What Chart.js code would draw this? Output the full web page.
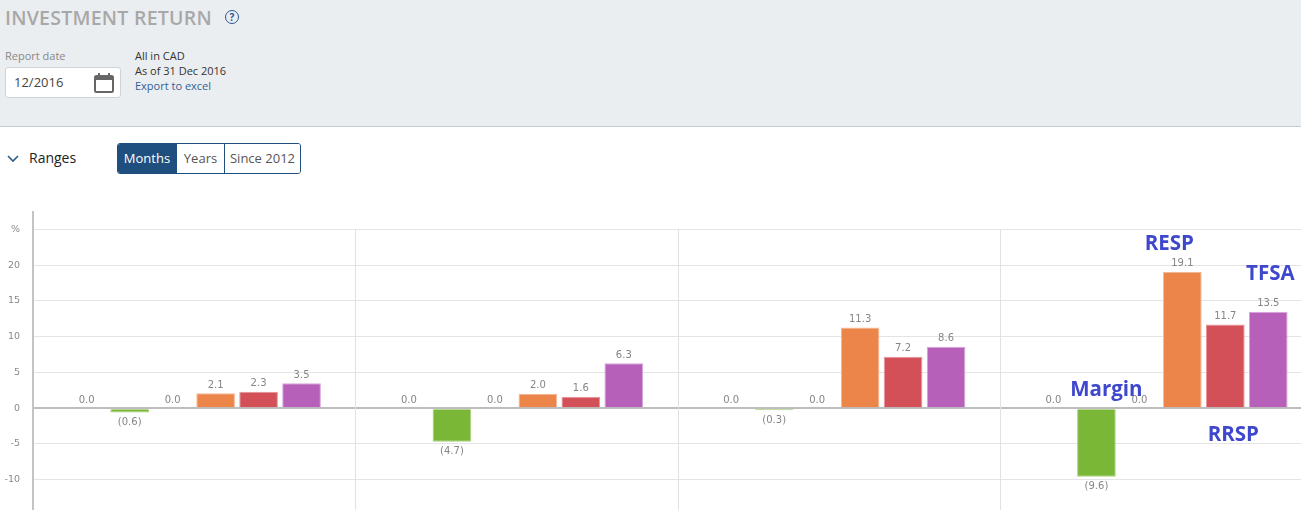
<!DOCTYPE html>
<html>
<head>
<meta charset="utf-8">
<script src="https://cdn.jsdelivr.net/npm/chart.js@4.4.1/dist/chart.umd.min.js"></script>
<style>
  html, body { margin: 0; padding: 0; width: 1301px; height: 510px; overflow: hidden; background: #fff; font-family: "Open Sans", sans-serif; }
  .top { position: absolute; left: 0; top: 0; width: 1301px; height: 126px; background: #ebeef0; border-bottom: 1px solid #c6cacd; }
  .title { position: absolute; left: 5px; top: 4px; font-size: 19.5px; font-weight: 600; color: #a8a8a8; letter-spacing: 0.25px; }
  .help { position: absolute; left: 225px; top: 10px; width: 12px; height: 12px; border: 1.5px solid #2d5597; border-radius: 50%; color: #2d5597; font-size: 10px; font-weight: 700; line-height: 12px; text-align: center; }
  .lbl { position: absolute; left: 5px; top: 48px; font-size: 11px; color: #888; }
  .date { position: absolute; left: 5px; top: 67px; width: 114px; height: 29px; background: #fff; border: 1px solid #cfd3d6; border-radius: 3px; }
  .date span { position: absolute; left: 8px; top: 5px; font-size: 13px; color: #444; }
  .date svg { position: absolute; left: 88px; top: 4px; }
  .info { position: absolute; left: 135px; font-size: 11px; color: #333; }
  .info.link { color: #2f6196; }
  .ranges { position: absolute; left: 7px; top: 147px; font-size: 14px; color: #222; }
  .ranges svg { position: absolute; left: 0; top: 8px; }
  .ranges b { position: absolute; left: 22px; top: 1px; font-weight: 400; white-space: nowrap; }
  .btns { position: absolute; left: 117px; top: 143px; height: 29px; display: flex; border: 1px solid #1f4f7e; border-radius: 3px; overflow: hidden; }
  .btns div { font-size: 13px; color: #555; line-height: 29px; text-align: center; border-left: 1px solid #1f4f7e; background: #fff; box-sizing: border-box; }
  .btns div.on { background: #1f4f7e; color: #fff; border-left: none; }
  #wrap { position: absolute; left: 0; top: 193px; width: 1322px; height: 341px; }
</style>
</head>
<body>
<div class="top">
  <div class="title">INVESTMENT RETURN</div>
  <div class="help">?</div>
  <div class="lbl">Report date</div>
  <div class="date"><span>12/2016</span>
    <svg width="20" height="21" viewBox="0 0 20 21">
      <rect x="1" y="4" width="18" height="16" rx="1.5" fill="none" stroke="#666" stroke-width="2"/>
      <rect x="1" y="4" width="18" height="4" fill="#666"/>
      <rect x="4" y="1" width="2" height="5" fill="#666"/>
      <rect x="14" y="1" width="2" height="5" fill="#666"/>
    </svg>
  </div>
  <div class="info" style="top:48px">All in CAD</div>
  <div class="info" style="top:63px">As of 31 Dec 2016</div>
  <div class="info link" style="top:78px">Export to excel</div>
</div>
<div class="ranges">
  <svg width="12" height="8" viewBox="0 0 12 8"><polyline points="1,1 6,6 11,1" fill="none" stroke="#2d5a8a" stroke-width="1.6"/></svg>
  <b>Ranges</b>
</div>
<div class="btns">
  <div class="on" style="width:58px">Months</div>
  <div style="width:48px">Years</div>
  <div style="width:76px">Since 2012</div>
</div>
<div id="wrap"><canvas id="chart"></canvas></div>
<script>
// ── Data ──
const periods = ['1 Month', '3 Months', '6 Months', '12 Months'];
const cash   = [0, 0, 0, 0];
const margin = [-0.6, -4.7, -0.3, -9.6];
const lira   = [0, 0, 0, 0];
const resp   = [2.1, 2.0, 11.3, 19.1];
const rrsp   = [2.3, 1.6, 7.2, 11.7];
const tfsa   = [3.5, 6.3, 8.6, 13.5];
const yTicks = [-15, -10, -5, 0, 5, 10, 15, 20, 25];

// big hand-written account names over the last group
const notes = [
  { text: 'Margin', ds: 1, at: 2.5,   dx: 10 },
  { text: 'RESP',   ds: 3, at: 23.0,  dx: -13 },
  { text: 'RRSP',   ds: 4, at: -3.75, dx: 8 },
  { text: 'TFSA',   ds: 5, at: 18.8,  dx: 2 }
];

const fmt = v => v < 0 ? '(' + Math.abs(v).toFixed(1) + ')' : v.toFixed(1);

// ── Plugins ──
const separators = {
  id: 'separators',
  beforeDatasetsDraw(chart) {
    const { ctx, chartArea, scales: { x, y } } = chart;
    const top = y.getPixelForValue(25);
    const half = (x.getPixelForValue(1) - x.getPixelForValue(0)) / 2;
    ctx.save();
    ctx.strokeStyle = '#e2e2e2';
    ctx.lineWidth = 1;
    for (let i = 0; i < periods.length; i++) {
      const px = Math.round(x.getPixelForValue(i) + half) + 0.5;
      ctx.beginPath(); ctx.moveTo(px, top); ctx.lineTo(px, chartArea.bottom); ctx.stroke();
    }
    ctx.restore();
  }
};

const valueLabels = {
  id: 'valueLabels',
  afterDatasetsDraw(chart) {
    const { ctx } = chart;
    ctx.save();
    ctx.font = '10px "DejaVu Sans"';
    ctx.fillStyle = '#858585';
    ctx.textAlign = 'center';
    chart.data.datasets.forEach((ds, di) => {
      chart.getDatasetMeta(di).data.forEach((bar, i) => {
        const v = ds.data[i];
        if (v < 0) { ctx.textBaseline = 'top'; ctx.fillText(fmt(v), bar.x, bar.y + 5); }
        else { ctx.textBaseline = 'bottom'; ctx.fillText(fmt(v), bar.x, bar.y - 3); }
      });
    });
    ctx.restore();
  }
};

const accountNotes = {
  id: 'accountNotes',
  afterDraw(chart) {
    const { ctx, scales: { y } } = chart;
    const last = periods.length - 1;
    ctx.save();
    ctx.font = 'bold 20.5px "Open Sans"';
    ctx.fillStyle = '#3f48cc';
    ctx.textAlign = 'center';
    ctx.textBaseline = 'middle';
    notes.forEach(n => {
      const bar = chart.getDatasetMeta(n.ds).data[last];
      ctx.fillText(n.text, bar.x + n.dx, y.getPixelForValue(n.at));
    });
    ctx.restore();
  }
};

// ── Chart ──
const bar = (label, data, color, edge) => ({
  label, data, backgroundColor: color, borderColor: edge, borderWidth: 1,
  categoryPercentage: 0.8, barPercentage: 0.9
});

new Chart(document.getElementById('chart'), {
  type: 'bar',
  data: {
    labels: periods,
    datasets: [
      bar('Cash', cash, '#9a9a9a', '#bcbcbc'),
      bar('Margin', margin, '#7ab737', '#a6d27a'),
      bar('LIRA', lira, '#9a9a9a', '#bcbcbc'),
      bar('RESP', resp, '#ec854a', '#f6b894'),
      bar('RRSP', rrsp, '#d35058', '#e8939a'),
      bar('TFSA', tfsa, '#b760ba', '#d8a3da')
    ]
  },
  options: {
    responsive: true, maintainAspectRatio: false,
    animation: false,
    layout: { padding: { top: 12, right: 0, bottom: 0, left: 0 } },
    plugins: { legend: { display: false }, tooltip: { enabled: false } },
    scales: {
      x: { display: false },
      y: {
        min: -15, max: 27.5,
        afterBuildTicks: s => { s.ticks = yTicks.map(v => ({ value: v })); },
        afterFit: s => { s.width = 33; },
        grid: {
          drawTicks: false,
          color: c => c.tick && c.tick.value === 0 ? '#bdbdbd' : '#e4e4e4',
          lineWidth: c => c.tick && c.tick.value === 0 ? 2 : 1
        },
        border: { color: '#c4c4c4', width: 2 },
        ticks: {
          padding: 13,
          color: '#858a90',
          font: { family: 'DejaVu Sans', size: 9.5 },
          callback: v => v === 25 ? '%' : v
        }
      }
    }
  },
  plugins: [separators, valueLabels, accountNotes]
});
</script>
</body>
</html>
